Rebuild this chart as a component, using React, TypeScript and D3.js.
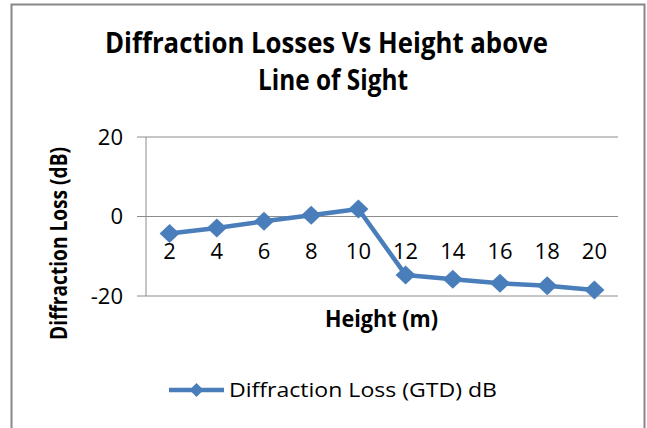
import React from "react";
import * as d3 from "d3";

const heights = ["2", "4", "6", "8", "10", "12", "14", "16", "18", "20"];
const lossValues = [-4.3, -2.9, -1.2, 0.3, 1.9, -14.7, -15.8, -16.8, -17.4, -18.5];
const yTicks = [20, 0, -20];
const titleLines = ["Diffraction Losses Vs Height above", "Line of Sight"];
const seriesName = "Diffraction Loss (GTD) dB";
const xTitle = "Height (m)";
const yTitle = "Diffraction Loss (dB)";

const W = 647;
const H = 428;
const plot = { left: 146, right: 618, top: 137, bottom: 296 };
const blue = "#4A7EBB";
const font = "'Open Sans', 'Liberation Sans', sans-serif";

function diamond(cx: number, cy: number, rx: number, ry: number) {
  return `M${cx},${cy - ry}L${cx + rx},${cy}L${cx},${cy + ry}L${cx - rx},${cy}Z`;
}

export default function App() {
  const x = d3.scaleBand<string>().domain(heights).range([plot.left, plot.right]);
  const y = d3.scaleLinear().domain([-20, 20]).range([plot.bottom, plot.top]);
  const cx = (h: string) => (x(h) as number) + x.bandwidth() / 2;
  const line = d3
    .line<number>()
    .x((_, i) => cx(heights[i]))
    .y((v) => y(v));
  const zeroY = y(0);

  return (
    <svg
      width={W}
      height={H}
      style={{ position: "absolute", left: 0, top: 0, background: "#fff" }}
    >
      <rect x={0} y={0} width={W} height={H} fill="#fff" />
      <rect x={11.5} y={4.5} width={633} height={440} fill="#fff" stroke="#878787" strokeWidth={2} />

      {/* title */}
      {titleLines.map((t, i) => (
        <text
          key={t}
          x={i === 0 ? 105 : 258}
          y={i === 0 ? 53 : 90}
          fontFamily={font}
          fontWeight="bold"
          fontSize={28}
          fill="#000"
          textLength={i === 0 ? 443 : 150}
          lengthAdjust="spacingAndGlyphs"
        >
          {t}
        </text>
      ))}

      {/* gridlines */}
      {yTicks.map((t) => (
        <g key={t}>
          <line x1={plot.left - 9} x2={plot.right} y1={y(t)} y2={y(t)} stroke="#8c8c8c" strokeWidth={1} />
          <text
            x={123}
            y={y(t)}
            dy="0.36em"
            textAnchor="end"
            fontFamily={font}
            fontSize={22}
            fill="#000"
          >
            {t}
          </text>
        </g>
      ))}
      <line x1={plot.left} x2={plot.left} y1={plot.top} y2={plot.bottom} stroke="#8c8c8c" strokeWidth={1} />

      {/* category labels */}
      {heights.map((h) => (
        <text
          key={h}
          x={cx(h)}
          y={zeroY + 35}
          dy="0.36em"
          textAnchor="middle"
          fontFamily={font}
          fontSize={22}
          fill="#000"
        >
          {h}
        </text>
      ))}

      {/* series */}
      <path d={line(lossValues) || ""} fill="none" stroke={blue} strokeWidth={4.5} strokeLinejoin="round" />
      {lossValues.map((v, i) => (
        <path key={i} d={diamond(cx(heights[i]), y(v), 10, 9.5)} fill={blue} />
      ))}

      {/* axis titles */}
      <text
        x={325}
        y={327}
        fontFamily={font}
        fontWeight="bold"
        fontSize={23}
        fill="#000"
        textLength={113}
        lengthAdjust="spacingAndGlyphs"
      >
        {xTitle}
      </text>
      <text
        transform="translate(67,340) rotate(-90)"
        fontFamily={font}
        fontWeight="bold"
        fontSize={23}
        fill="#000"
        textLength={193}
        lengthAdjust="spacingAndGlyphs"
      >
        {yTitle}
      </text>

      {/* legend */}
      <line x1={169} x2={224} y1={390} y2={390} stroke={blue} strokeWidth={4.5} />
      <path d={diamond(196.5, 390, 7, 7)} fill={blue} />
      <text
        x={229}
        y={397}
        fontFamily={font}
        fontSize={20}
        fill="#000"
        textLength={268}
        lengthAdjust="spacingAndGlyphs"
      >
        {seriesName}
      </text>
    </svg>
  );
}
